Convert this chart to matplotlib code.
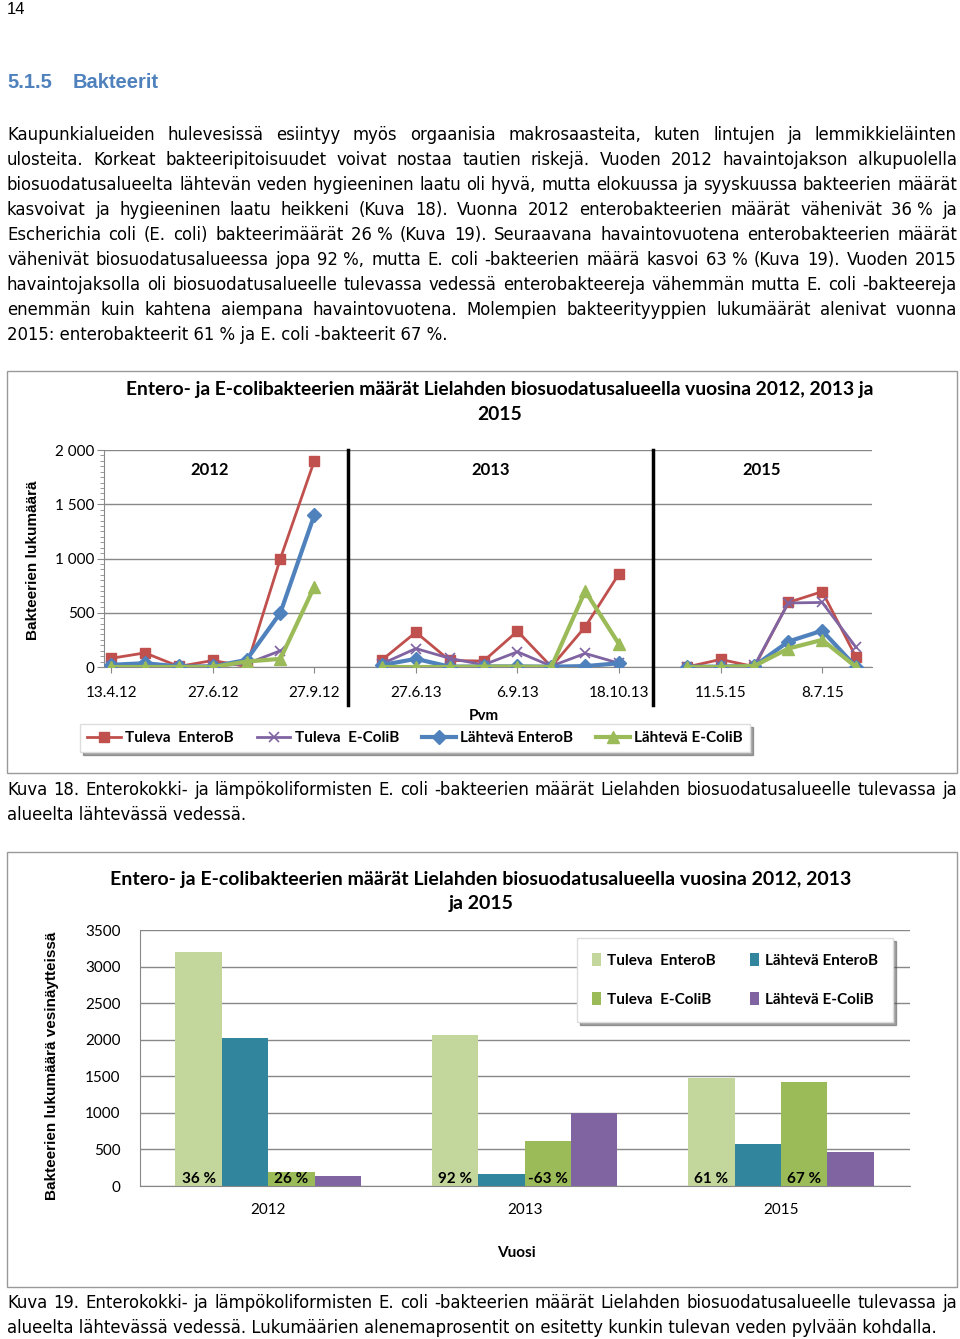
import numpy as np
import matplotlib
matplotlib.use('Agg')
import matplotlib.pyplot as plt
from matplotlib.patches import Rectangle

W, H = 960, 1339

# ---- data, chart 1 (Kuva 18) ----
nan = np.nan
date_labels = ['13.4.12', '27.6.12', '27.9.12', '27.6.13', '6.9.13', '18.10.13', '11.5.15', '8.7.15']
label_pos = [0, 3, 6, 9, 12, 15, 18, 21]
year_breaks = [7, 16]
year_names = ['2012', '2013', '2015']
year_label_pos = [2.9, 11.2, 19.2]

tuleva_entero = [80, 130, 5, 60, 5, 1000, 1900, nan,
                 65, 320, 60, 55, 330, 3, 370, 860, nan,
                 0, 70, 3, 595, 695, 90]
tuleva_coli = [10, 10, 0, 10, 30, 150, nan, nan,
               30, 170, 80, 20, 140, 8, 125, 35, nan,
               0, 5, 15, 590, 595, 180]
lahteva_entero = [20, 35, 5, 5, 65, 500, 1400, nan,
                  18, 75, 3, 5, 5, 3, 8, 35, nan,
                  3, 3, 10, 235, 335, 0]
lahteva_coli = [0, 0, 0, 0, 50, 75, 740, nan,
                0, 0, 0, 3, 3, 0, 700, 210, nan,
                0, 0, 10, 170, 250, 0]

# ---- data, chart 2 (Kuva 19) ----
years = ['2012', '2013', '2015']
bar_tuleva_entero = [3200, 2070, 1478]
bar_lahteva_entero = [2030, 165, 578]
bar_tuleva_coli = [190, 615, 1418]
bar_lahteva_coli = [140, 1000, 470]
entero_pct = ['36 %', '92 %', '61 %']
coli_pct = ['26 %', '-63 %', '67 %']

paragraph = [
    "Kaupunkialueiden hulevesissä esiintyy myös orgaanisia makrosaasteita, kuten lintujen ja lemmikkieläinten",
    "ulosteita. Korkeat bakteeripitoisuudet voivat nostaa tautien riskejä. Vuoden 2012 havaintojakson alkupuolella",
    "biosuodatusalueelta lähtevän veden hygieeninen laatu oli hyvä, mutta elokuussa ja syyskuussa bakteerien määrät",
    "kasvoivat ja hygieeninen laatu heikkeni (Kuva 18). Vuonna 2012 enterobakteerien määrät vähenivät 36\u00a0% ja",
    "Escherichia coli (E. coli) bakteerimäärät 26\u00a0% (Kuva 19). Seuraavana havaintovuotena enterobakteerien määrät",
    "vähenivät biosuodatusalueessa jopa 92\u00a0%, mutta E. coli -bakteerien määrä kasvoi 63\u00a0% (Kuva 19). Vuoden 2015",
    "havaintojaksolla oli biosuodatusalueelle tulevassa vedessä enterobakteereja vähemmän mutta E. coli -bakteereja",
    "enemmän kuin kahtena aiempana havaintovuotena. Molempien bakteerityyppien lukumäärät alenivat vuonna",
    "2015: enterobakteerit 61\u00a0% ja E. coli -bakteerit 67\u00a0%.",
]
caption18 = [
    "Kuva 18. Enterokokki- ja lämpökoliformisten E. coli -bakteerien määrät Lielahden biosuodatusalueelle tulevassa ja",
    "alueelta lähtevässä vedessä.",
]
caption19 = [
    "Kuva 19. Enterokokki- ja lämpökoliformisten E. coli -bakteerien määrät Lielahden biosuodatusalueelle tulevassa ja",
    "alueelta lähtevässä vedessä. Lukumäärien alenemaprosentit on esitetty kunkin tulevan veden pylvään kohdalla.",
]

red, purple, blue, green = '#C0504D', '#8064A2', '#4F81BD', '#9BBB59'
lightgreen, teal = '#C3D69B', '#31859C'
gridc = '#888888'
body_font = ['DejaVu Sans']
label_font = ['Liberation Sans', 'DejaVu Sans']
chart_font = ['Lato', 'DejaVu Sans']

fig = plt.figure(figsize=(W / 100, H / 100), dpi=100)
fig.patch.set_facecolor('white')


def fx(x):
    return x / W


def fy(y):
    return 1 - y / H


def rect(x0, y0, x1, y1):
    return [fx(x0), fy(y1), (x1 - x0) / W, (y1 - y0) / H]


renderer = fig.canvas.get_renderer()


def justify(lines, y0, dy, x0=7, x1=957, size=11.9):
    for i, line in enumerate(lines):
        y = y0 + i * dy
        if i == len(lines) - 1:
            fig.text(fx(x0), fy(y), line, fontsize=size, family=body_font, va='center_baseline', ha='left')
            continue
        words = line.split(' ')
        ts = [fig.text(0, fy(y), w, fontsize=size, family=body_font, va='center_baseline', ha='left')
              for w in words]
        ws = [t.get_window_extent(renderer).width for t in ts]
        gap = (x1 - x0 - sum(ws)) / (len(words) - 1)
        if gap < 3:
            # too long: squeeze the font a bit
            for t in ts:
                t.set_fontsize(size * (x1 - x0 - 3 * (len(words) - 1)) / sum(ws))
            ws = [t.get_window_extent(renderer).width for t in ts]
            gap = (x1 - x0 - sum(ws)) / (len(words) - 1)
        x = x0
        for t, w in zip(ts, ws):
            t.set_x(fx(x))
            x += w + gap


# page header
fig.text(fx(7), fy(9), '14', fontsize=12, family=label_font, va='center')
fig.text(fx(7), fy(83), '5.1.5', fontsize=14.5, family=label_font, weight='bold', color='#4F81BD', va='center')
fig.text(fx(73), fy(83), 'Bakteerit', fontsize=14.5, family=label_font, weight='bold', color='#4F81BD', va='center')
justify(paragraph, 133, 25)

# chart frames
for (x0, y0, x1, y1) in [(7, 371, 957, 773), (7, 852, 957, 1287)]:
    fig.add_artist(Rectangle((fx(x0), fy(y1)), (x1 - x0) / W, (y1 - y0) / H,
                             transform=fig.transFigure, fill=False, ec='#999999', lw=1))

# ---------------- chart 1: line chart ----------------
ax = fig.add_axes(rect(104, 450, 872, 667))
x = np.arange(len(tuleva_entero))
ax.plot(x, tuleva_entero, color=red, lw=2, marker='s', ms=7, label='Tuleva  EnteroB', zorder=3)
ax.plot(x, tuleva_coli, color=purple, lw=2, marker='x', ms=7, mew=1.2, label='Tuleva  E-ColiB', zorder=3)
ax.plot(x, lahteva_entero, color=blue, lw=3, marker='D', ms=7, label='Lähtevä EnteroB', zorder=4)
ax.plot(x, lahteva_coli, color=green, lw=3, marker='^', ms=9, label='Lähtevä E-ColiB', zorder=5)
ax.set_xlim(-0.21, 22.47)
ax.set_ylim(0, 2000)
ax.set_yticks([0, 500, 1000, 1500, 2000])
ax.set_yticklabels(['0', '500', '1 000', '1 500', '2 000'], family=chart_font, fontsize=11)
ax.set_yticks(np.arange(0, 2001, 50), minor=True)
ax.tick_params(axis='y', which='minor', length=3, color=gridc, width=0.6)
ax.tick_params(axis='y', which='major', length=5, color=gridc, pad=2)
ax.set_xticks(label_pos)
ax.set_xticklabels(date_labels, family=chart_font, fontsize=11)
ax.tick_params(axis='x', length=4, color=gridc, pad=10)
ax.yaxis.grid(True, color=gridc, lw=1)
ax.set_axisbelow(True)
for s in ['top', 'right']:
    ax.spines[s].set_visible(False)
ax.spines['left'].set_color(gridc)
ax.spines['bottom'].set_color(gridc)
for b in year_breaks:
    ax.axvline(b, ymin=-0.175, ymax=1, color='black', lw=2.5, clip_on=False, zorder=6)
for name, p in zip(year_names, year_label_pos):
    ax.text(p, 1815, name, ha='center', va='center', fontsize=12, weight='bold', family=chart_font)
fig.text(fx(33), fy(560), 'Bakteerien lukumäärä', rotation=90, ha='center', va='center',
         fontsize=11, weight='bold', family=label_font)
fig.text(fx(484), fy(716), 'Pvm', ha='center', va='center', fontsize=11, weight='bold', family=chart_font)
fig.text(fx(500), fy(389), 'Entero- ja E-colibakteerien määrät Lielahden biosuodatusalueella vuosina 2012, 2013 ja',
         ha='center', va='center', fontsize=13.9, weight='bold', family=chart_font)
fig.text(fx(500), fy(414), '2015', ha='center', va='center', fontsize=13.9, weight='bold', family=chart_font)
leg = ax.legend(loc='center', bbox_to_anchor=(fx(415), fy(738)), bbox_transform=fig.transFigure,
                ncol=4, frameon=True, shadow=True, fancybox=False, handlelength=2.2,
                columnspacing=1.5, handletextpad=0.3, borderpad=0.45,
                prop={'family': chart_font, 'weight': 'bold', 'size': 11})
leg.get_frame().set_edgecolor('#dddddd')

# ---------------- chart 2: bar chart ----------------
bx = fig.add_axes(rect(140, 930, 910, 1186))
xb = np.arange(len(years))
bw = 0.181
b1 = bx.bar(xb - 1.5 * bw, bar_tuleva_entero, bw, color=lightgreen, label='Tuleva  EnteroB', zorder=2)
b2 = bx.bar(xb - 0.5 * bw, bar_lahteva_entero, bw, color=teal, label='Lähtevä EnteroB', zorder=2)
b3 = bx.bar(xb + 0.5 * bw, bar_tuleva_coli, bw, color=green, label='Tuleva  E-ColiB', zorder=2)
b4 = bx.bar(xb + 1.5 * bw, bar_lahteva_coli, bw, color=purple, label='Lähtevä E-ColiB', zorder=2)
for i in range(len(years)):
    bx.text(xb[i] - 1.5 * bw, 0, entero_pct[i], ha='center', va='bottom', fontsize=11,
            weight='bold', family=chart_font, zorder=3)
    bx.text(xb[i] + 0.5 * bw, 0, coli_pct[i], ha='center', va='bottom', fontsize=11,
            weight='bold', family=chart_font, zorder=3)
bx.set_xlim(-0.5, 2.503)
bx.set_ylim(0, 3500)
bx.set_yticks(np.arange(0, 3501, 500))
bx.set_yticklabels([str(v) for v in range(0, 3501, 500)], family=chart_font, fontsize=11)
bx.set_xticks(xb)
bx.set_xticklabels(years, family=chart_font, fontsize=11)
bx.tick_params(axis='both', length=0, pad=12)
bx.tick_params(axis='y', pad=14)
bx.yaxis.grid(True, color=gridc, lw=1)
bx.set_axisbelow(True)
for s in ['top', 'right']:
    bx.spines[s].set_visible(False)
bx.spines['left'].set_color(gridc)
bx.spines['bottom'].set_color(gridc)
fig.text(fx(52), fy(1066), 'Bakteerien lukumäärä vesinäytteissä', rotation=90, ha='center', va='center',
         fontsize=11, weight='bold', family=label_font)
fig.text(fx(516), fy(1253), 'Vuosi', ha='center', va='center', fontsize=11, weight='bold', family=chart_font)
fig.text(fx(481), fy(879), 'Entero- ja E-colibakteerien määrät Lielahden biosuodatusalueella vuosina 2012, 2013',
         ha='center', va='center', fontsize=14, weight='bold', family=chart_font)
fig.text(fx(481), fy(904), 'ja 2015', ha='center', va='center', fontsize=14, weight='bold', family=chart_font)
leg2 = bx.legend([b1, b3, b2, b4], ['Tuleva  EnteroB', 'Tuleva  E-ColiB', 'Lähtevä EnteroB', 'Lähtevä E-ColiB'],
                 loc='center', bbox_to_anchor=(fx(735), fy(980)), bbox_transform=fig.transFigure,
                 ncol=2, frameon=True, shadow=True, fancybox=False, handlelength=0.6, handleheight=0.9,
                 labelspacing=1.6, columnspacing=2.2, handletextpad=0.4, borderpad=1.0,
                 prop={'family': chart_font, 'weight': 'bold', 'size': 11})
leg2.get_frame().set_edgecolor('#dddddd')

justify(caption18, 788, 25)
justify(caption19, 1301, 25)

fig.savefig('out.png', dpi=100)
